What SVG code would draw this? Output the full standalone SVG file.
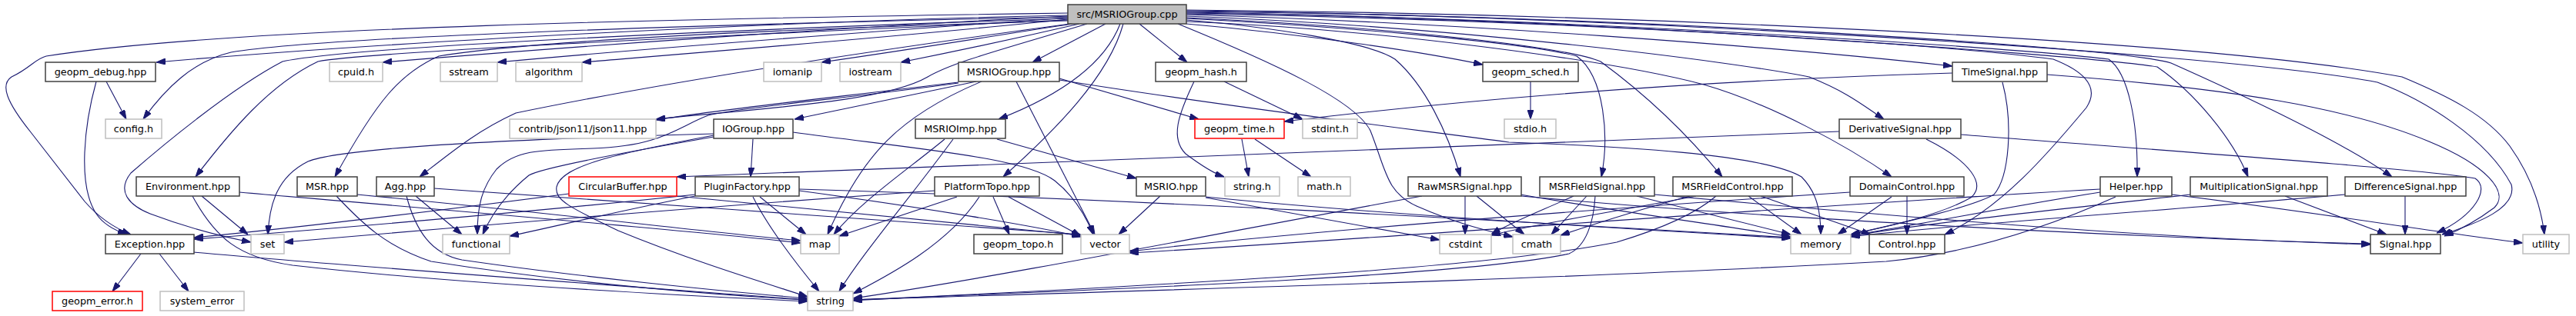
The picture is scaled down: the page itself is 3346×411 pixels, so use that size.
<svg xmlns="http://www.w3.org/2000/svg" width="3346" height="411" viewBox="0 0 3346 411">
<style>
text{font-family:"DejaVu Sans","Liberation Sans",sans-serif;font-size:12.8px;text-anchor:middle;fill:#000}
.n rect{fill:#fff;stroke:#404040;stroke-width:1.5}
.x rect{fill:#fff;stroke:#bfbfbf;stroke-width:1.5}
.r rect{fill:#fff;stroke:#ff0000;stroke-width:1.5}
.root rect{fill:#bfbfbf;stroke:#404040;stroke-width:1.5}
#edges path{fill:none;stroke:#191970;stroke-width:1.1;marker-end:url(#a)}
</style>
<defs>
<marker id="a" markerWidth="12" markerHeight="8" refX="12" refY="4" orient="auto" markerUnits="userSpaceOnUse"><path d="M0,0 L12,4 L0,8 z" fill="#191970" stroke="#191970" stroke-width="1"/></marker>
</defs>
<rect width="3346" height="411" fill="#fff"/>
<g id="edges">
<!-- root left fan -->
<path d="M1387,20 C1000,28 500,55 203,81"/>
<path d="M1387,22 C900,32 420,48 300,68 C250,80 215,115 186,155"/>
<path d="M1387,17 C900,24 300,35 60,73 C45,77 40,88 15,100 C0,110 8,132 40,172 L110,262 C130,285 150,297 170,305"/>
<path d="M1387,24 C900,40 450,62 367,80 C300,115 210,190 170,225 C150,250 170,268 195,278 C240,295 280,306 326,315"/>
<path d="M1387,26 C900,48 470,68 413,80 C350,110 300,170 254,230"/>
<path d="M1387,21 C1100,35 750,60 497,81"/>
<path d="M1387,23 C1150,40 850,62 646,81"/>
<path d="M1387,25 C1200,45 950,65 756,81"/>
<path d="M1387,27 C1000,38 700,52 570,73 C520,95 490,130 435,230"/>
<path d="M1390,31 C1100,70 850,110 670,147 C620,170 590,195 545,230"/>
<path d="M1393,31 C1300,45 1200,62 1067,81"/>
<path d="M1402,31 C1320,50 1250,65 1170,81"/>
<path d="M1412,31 C1300,65 1240,80 1205,100 C1150,132 1000,140 852,155"/>
<path d="M1436,31 L1341,81"/>
<path d="M1480,31 L1542,81"/>
<path d="M1455,31 C1440,70 1400,115 1297,155"/>
<path d="M1459,31 C1440,100 1370,170 1303,230"/>
<!-- root right fan -->
<path d="M1541,31 C1700,45 1850,68 1926,84"/>
<path d="M1541,26 C1650,35 1780,55 1812,77 C1850,110 1880,170 1897,230"/>
<path d="M1541,24 C1750,35 1980,55 2048,73 C2085,100 2090,180 2080,230"/>
<path d="M1541,23 C1800,35 2030,60 2079,80 C2120,110 2180,160 2237,230"/>
<path d="M1541,21 C1900,35 2250,80 2350,100 C2400,120 2420,137 2447,155"/>
<path d="M1541,28 C1800,38 2100,80 2213,110 C2300,135 2400,190 2457,230"/>
<path d="M1530,31 C1650,80 1760,130 1780,170 C1800,220 1800,250 1840,268 C1890,290 1930,300 1965,308"/>
<path d="M1541,19 C1900,30 2300,60 2536,86"/>
<path d="M1541,18 C2000,25 2500,55 2667,77 C2700,90 2730,110 2710,140 C2660,200 2600,270 2526,305"/>
<path d="M1541,17 C2000,22 2600,60 2739,77 C2765,95 2777,160 2776,230"/>
<path d="M1541,16 C2000,22 2700,70 2802,87 C2850,120 2900,180 2920,230"/>
<path d="M1541,15 C2100,20 2750,60 2820,82 C2950,140 3050,190 3107,230"/>
<path d="M1541,14 C2100,20 2900,70 3088,107 C3150,130 3230,180 3262,240 C3270,270 3220,290 3172,305"/>
<path d="M1541,13 C2100,18 2850,50 3120,100 C3180,125 3230,150 3260,190 C3285,225 3300,265 3305,305"/>
<!-- geopm_debug -->
<path d="M138,106 L164,155"/>
<path d="M125,106 C110,160 100,240 125,278 C135,293 150,300 165,305"/>
<!-- MSRIOGroup.hpp -->
<path d="M1245,107 C1100,125 950,140 852,156"/>
<path d="M1245,108 C1100,128 960,140 920,150 C880,165 860,190 770,193 C700,195 670,195 645,220 C625,245 620,270 620,305"/>
<path d="M1268,106 L1032,155"/>
<path d="M1275,106 C1170,150 1120,200 1075,305"/>
<path d="M1320,106 L1422,305"/>
<path d="M1376,102 L1557,155"/>
<path d="M1376,104 C1600,140 1850,170 1960,185 C2100,190 2290,200 2340,230 C2360,250 2365,275 2365,305"/>
<!-- IOGroup -->
<path d="M978,181 L975,230"/>
<path d="M927,178 C800,200 700,220 687,228 C660,250 640,275 627,305"/>
<path d="M927,176 C800,200 730,215 723,243 C720,260 740,270 803,300 C900,340 1000,370 1049,386"/>
<path d="M927,174 C700,180 450,190 400,210 C360,230 350,265 348,305"/>
<path d="M1030,172 C1200,195 1330,205 1370,235 C1395,255 1410,280 1420,305"/>
<!-- MSRIOImp -->
<path d="M1227,181 C1180,220 1120,260 1083,305"/>
<path d="M1238,181 C1180,260 1120,330 1090,379"/>
<path d="M1295,181 L1476,232"/>
<!-- PlatformTopo -->
<path d="M1243,256 L1090,307"/>
<path d="M1272,256 C1230,320 1150,360 1108,382"/>
<path d="M1290,256 L1311,305"/>
<path d="M1310,256 L1404,307"/>
<path d="M1214,248 C900,270 600,295 369,315"/>
<!-- PluginFactory -->
<path d="M987,256 L1047,305"/>
<path d="M978,256 C1000,300 1040,350 1064,379"/>
<path d="M903,255 C800,275 720,295 662,307"/>
<path d="M903,253 C700,275 400,300 252,311"/>
<path d="M1038,248 C1200,270 1350,295 1404,308"/>
<path d="M1038,246 C1500,260 2000,290 2326,309"/>
<!-- CircularBuffer -->
<path d="M739,252 C600,270 400,295 252,309"/>
<path d="M879,255 C1100,275 1300,295 1404,306"/>
<!-- Agg -->
<path d="M540,255 L600,305"/>
<path d="M528,255 C540,300 560,330 600,338 C750,360 950,380 1049,388"/>
<path d="M564,245 C800,262 1200,290 1404,305"/>
<!-- MSR -->
<path d="M464,253 C700,275 900,300 1040,313"/>
<path d="M437,255 C470,290 500,320 560,340 C750,370 950,385 1049,390"/>
<!-- Environment -->
<path d="M262,255 L322,305"/>
<path d="M250,255 C280,310 310,335 380,345 C600,370 900,385 1049,392"/>
<path d="M311,250 C600,275 900,300 1040,316"/>
<!-- Exception -->
<path d="M183,330 L146,379"/>
<path d="M207,330 L245,379"/>
<path d="M252,328 C500,350 850,375 1049,390"/>
<!-- small headers -->
<path d="M1590,106 L1692,155"/>
<path d="M1551,106 C1530,150 1520,180 1540,200 C1560,215 1575,225 1590,230"/>
<path d="M1613,181 L1622,230"/>
<path d="M1630,181 L1703,230"/>
<path d="M1988,106 L1988,155"/>
<!-- MSRIO -->
<path d="M1507,255 L1453,305"/>
<path d="M1566,257 L1870,312"/>
<path d="M1566,256 C1800,280 2150,300 2326,310"/>
<!-- RawMSRSignal -->
<path d="M1903,255 L1903,305"/>
<path d="M1918,255 L1980,305"/>
<path d="M1847,255 C1600,300 1300,360 1108,388"/>
<path d="M1975,253 C2100,275 2250,295 2326,308"/>
<path d="M1976,255 C2300,285 2800,310 3079,317"/>
<!-- MSRFieldSignal -->
<path d="M2044,255 C2000,275 1960,290 1937,305"/>
<path d="M2061,255 L2015,305"/>
<path d="M2072,255 C2070,290 2060,320 2038,330 C1900,360 1400,378 1108,390"/>
<path d="M2126,255 L2326,305"/>
<path d="M2149,253 C2500,285 2800,310 3079,318"/>
<!-- MSRFieldControl -->
<path d="M2203,255 C2100,275 1990,292 1937,306"/>
<path d="M2195,255 C2120,275 2060,295 2027,306"/>
<path d="M2229,255 C2200,280 2150,300 2100,315 C1900,355 1400,375 1108,391"/>
<path d="M2271,255 L2340,305"/>
<path d="M2287,255 L2430,305"/>
<!-- Derivative / Time / Domain -->
<path d="M2389,171 L879,230"/>
<path d="M2502,181 C2560,210 2580,240 2560,257 C2520,280 2450,295 2404,305"/>
<path d="M2547,175 C2800,195 3150,220 3215,232 C3235,245 3215,280 3165,303"/>
<path d="M2536,95 C2200,105 1900,130 1668,158"/>
<path d="M2601,107 C2615,160 2610,230 2590,253 C2560,270 2470,290 2404,305"/>
<path d="M2659,97 C2900,115 3050,140 3155,184 C3230,215 3260,250 3240,270 C3220,285 3200,297 3175,307"/>
<path d="M2457,256 L2387,305"/>
<path d="M2477,255 L2477,305"/>
<path d="M2403,250 C2100,270 1700,300 1467,327"/>
<!-- Helper -->
<path d="M2728,246 C2300,270 1800,310 1467,329"/>
<path d="M2728,250 C2600,270 2480,295 2404,306"/>
<path d="M2748,256 C2650,300 2550,330 2450,340 C2000,365 1400,380 1108,390"/>
<path d="M2821,253 C3000,275 3150,300 3277,316"/>
<!-- Multiplication / Difference -->
<path d="M2845,253 C2700,270 2500,290 2404,307"/>
<path d="M2968,255 L3100,305"/>
<path d="M3046,253 C2800,275 2500,295 2404,308"/>
<path d="M3124,255 L3124,305"/>
</g>
<g id="root" class="root"><rect x="1387" y="6" width="154" height="25"/><text x="1464" y="23">src/MSRIOGroup.cpp</text></g>
<g id="n_geopm_debug" class="n"><rect x="59" y="81" width="143" height="25"/><text x="130.5" y="98">geopm_debug.hpp</text></g>
<g id="n_cpuid" class="x"><rect x="428" y="81" width="69" height="25"/><text x="462.5" y="98">cpuid.h</text></g>
<g id="n_sstream" class="x"><rect x="572" y="81" width="74" height="25"/><text x="609" y="98">sstream</text></g>
<g id="n_algorithm" class="x"><rect x="670" y="81" width="86" height="25"/><text x="713" y="98">algorithm</text></g>
<g id="n_iomanip" class="x"><rect x="992" y="81" width="75" height="25"/><text x="1029.5" y="98">iomanip</text></g>
<g id="n_iostream" class="x"><rect x="1091" y="81" width="79" height="25"/><text x="1130.5" y="98">iostream</text></g>
<g id="n_MSRIOGroup_hpp" class="n"><rect x="1245" y="81" width="131" height="25"/><text x="1310.5" y="98">MSRIOGroup.hpp</text></g>
<g id="n_geopm_hash" class="n"><rect x="1501" y="81" width="118" height="25"/><text x="1560" y="98">geopm_hash.h</text></g>
<g id="n_geopm_sched" class="n"><rect x="1926" y="81" width="124" height="25"/><text x="1988" y="98">geopm_sched.h</text></g>
<g id="n_TimeSignal" class="n"><rect x="2536" y="81" width="123" height="25"/><text x="2597.5" y="98">TimeSignal.hpp</text></g>
<g id="n_config" class="x"><rect x="137" y="155" width="73" height="25"/><text x="173.5" y="172">config.h</text></g>
<g id="n_json11" class="x"><rect x="662" y="155" width="190" height="25"/><text x="757" y="172">contrib/json11/json11.hpp</text></g>
<g id="n_IOGroup" class="n"><rect x="927" y="155" width="103" height="25"/><text x="978.5" y="172">IOGroup.hpp</text></g>
<g id="n_MSRIOImp" class="n"><rect x="1189" y="155" width="117" height="25"/><text x="1247.5" y="172">MSRIOImp.hpp</text></g>
<g id="n_geopm_time" class="r"><rect x="1552" y="155" width="116" height="25"/><text x="1610" y="172">geopm_time.h</text></g>
<g id="n_stdint" class="x"><rect x="1692" y="155" width="71" height="25"/><text x="1727.5" y="172">stdint.h</text></g>
<g id="n_stdio" class="x"><rect x="1954" y="155" width="67" height="25"/><text x="1987.5" y="172">stdio.h</text></g>
<g id="n_DerivativeSignal" class="n"><rect x="2389" y="155" width="158" height="25"/><text x="2468" y="172">DerivativeSignal.hpp</text></g>
<g id="n_Environment" class="n"><rect x="177" y="230" width="134" height="25"/><text x="244" y="247">Environment.hpp</text></g>
<g id="n_MSR" class="n"><rect x="386" y="230" width="78" height="25"/><text x="425" y="247">MSR.hpp</text></g>
<g id="n_Agg" class="n"><rect x="489" y="230" width="75" height="25"/><text x="526.5" y="247">Agg.hpp</text></g>
<g id="n_CircularBuffer" class="r"><rect x="739" y="230" width="140" height="25"/><text x="809" y="247">CircularBuffer.hpp</text></g>
<g id="n_PluginFactory" class="n"><rect x="903" y="230" width="135" height="25"/><text x="970.5" y="247">PluginFactory.hpp</text></g>
<g id="n_PlatformTopo" class="n"><rect x="1214" y="230" width="136" height="25"/><text x="1282" y="247">PlatformTopo.hpp</text></g>
<g id="n_MSRIO" class="n"><rect x="1476" y="230" width="90" height="25"/><text x="1521" y="247">MSRIO.hpp</text></g>
<g id="n_string_h" class="x"><rect x="1591" y="230" width="71" height="25"/><text x="1626.5" y="247">string.h</text></g>
<g id="n_math_h" class="x"><rect x="1686" y="230" width="68" height="25"/><text x="1720" y="247">math.h</text></g>
<g id="n_RawMSRSignal" class="n"><rect x="1829" y="230" width="147" height="25"/><text x="1902.5" y="247">RawMSRSignal.hpp</text></g>
<g id="n_MSRFieldSignal" class="n"><rect x="2000" y="230" width="149" height="25"/><text x="2074.5" y="247">MSRFieldSignal.hpp</text></g>
<g id="n_MSRFieldControl" class="n"><rect x="2173" y="230" width="155" height="25"/><text x="2250.5" y="247">MSRFieldControl.hpp</text></g>
<g id="n_DomainControl" class="n"><rect x="2403" y="230" width="148" height="25"/><text x="2477" y="247">DomainControl.hpp</text></g>
<g id="n_Helper" class="n"><rect x="2728" y="230" width="93" height="25"/><text x="2774.5" y="247">Helper.hpp</text></g>
<g id="n_MultiplicationSignal" class="n"><rect x="2845" y="230" width="178" height="25"/><text x="2934" y="247">MultiplicationSignal.hpp</text></g>
<g id="n_DifferenceSignal" class="n"><rect x="3046" y="230" width="157" height="25"/><text x="3124.5" y="247">DifferenceSignal.hpp</text></g>
<g id="n_Exception" class="n"><rect x="137" y="305" width="115" height="25"/><text x="194.5" y="322">Exception.hpp</text></g>
<g id="n_set" class="x"><rect x="326" y="305" width="43" height="25"/><text x="347.5" y="322">set</text></g>
<g id="n_functional" class="x"><rect x="575" y="305" width="87" height="25"/><text x="618.5" y="322">functional</text></g>
<g id="n_map" class="x"><rect x="1040" y="305" width="50" height="25"/><text x="1065" y="322">map</text></g>
<g id="n_geopm_topo" class="n"><rect x="1265" y="305" width="115" height="25"/><text x="1322.5" y="322">geopm_topo.h</text></g>
<g id="n_vector" class="x"><rect x="1404" y="305" width="63" height="25"/><text x="1435.5" y="322">vector</text></g>
<g id="n_cstdint" class="x"><rect x="1870" y="305" width="67" height="25"/><text x="1903.5" y="322">cstdint</text></g>
<g id="n_cmath" class="x"><rect x="1965" y="305" width="62" height="25"/><text x="1996" y="322">cmath</text></g>
<g id="n_memory" class="x"><rect x="2326" y="305" width="78" height="25"/><text x="2365" y="322">memory</text></g>
<g id="n_Control" class="n"><rect x="2428" y="305" width="98" height="25"/><text x="2477" y="322">Control.hpp</text></g>
<g id="n_Signal" class="n"><rect x="3079" y="305" width="91" height="25"/><text x="3124.5" y="322">Signal.hpp</text></g>
<g id="n_utility" class="x"><rect x="3277" y="305" width="60" height="25"/><text x="3307" y="322">utility</text></g>
<g id="n_geopm_error" class="r"><rect x="68" y="379" width="117" height="25"/><text x="126.5" y="396">geopm_error.h</text></g>
<g id="n_system_error" class="x"><rect x="208" y="379" width="109" height="25"/><text x="262.5" y="396">system_error</text></g>
<g id="n_string" class="x"><rect x="1049" y="379" width="59" height="25"/><text x="1078.5" y="396">string</text></g>
</svg>
